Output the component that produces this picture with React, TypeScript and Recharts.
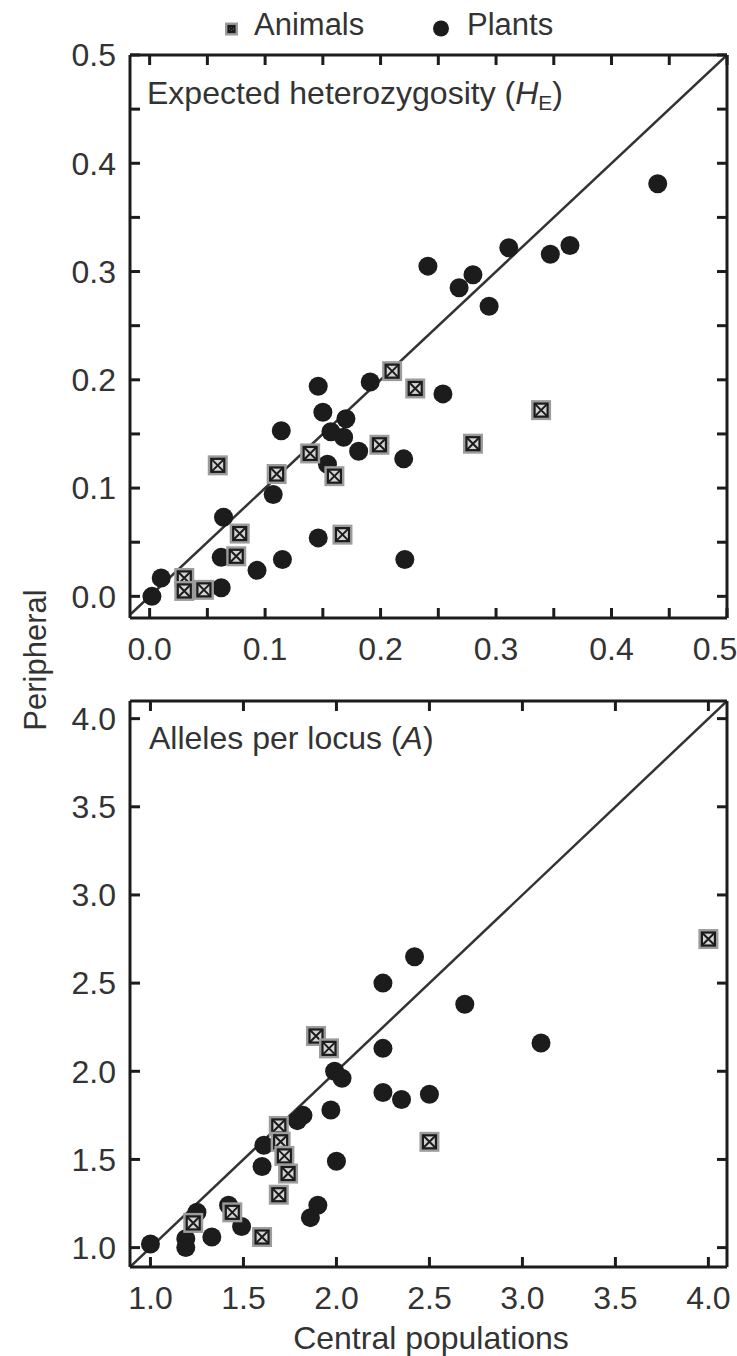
import React from 'react';
import { ScatterChart, Scatter, XAxis, YAxis, ReferenceLine } from 'recharts';

// ---------- Data (central population value, peripheral population value) ----------
// Panel 1: Expected heterozygosity (He)
const heAnimalsCentral = [0.210, 0.230, 0.199, 0.139, 0.160, 0.059, 0.110, 0.078, 0.167, 0.075, 0.030, 0.030, 0.047, 0.280, 0.339];
const heAnimalsPeripheral = [0.208, 0.192, 0.140, 0.132, 0.111, 0.121, 0.113, 0.058, 0.057, 0.037, 0.017, 0.005, 0.006, 0.141, 0.172];
const hePlantsCentral = [0.440, 0.364, 0.347, 0.311, 0.294, 0.280, 0.268, 0.241, 0.254, 0.191, 0.146, 0.150, 0.170, 0.157, 0.168, 0.181, 0.220, 0.114, 0.154, 0.107, 0.064, 0.146, 0.062, 0.115, 0.221, 0.093, 0.010, 0.002, 0.062];
const hePlantsPeripheral = [0.381, 0.324, 0.316, 0.322, 0.268, 0.297, 0.285, 0.305, 0.187, 0.198, 0.194, 0.170, 0.164, 0.152, 0.147, 0.134, 0.127, 0.153, 0.122, 0.094, 0.073, 0.054, 0.036, 0.034, 0.034, 0.024, 0.017, 0.000, 0.008];

// Panel 2: Alleles per locus (A)
const aAnimalsCentral = [1.89, 1.96, 2.50, 1.69, 1.70, 1.72, 1.74, 1.69, 1.44, 1.60, 1.23, 4.00];
const aAnimalsPeripheral = [2.20, 2.13, 1.60, 1.69, 1.60, 1.52, 1.42, 1.30, 1.20, 1.06, 1.14, 2.75];
const aPlantsCentral = [2.69, 2.42, 2.25, 2.25, 1.99, 2.03, 2.25, 2.35, 2.50, 1.97, 1.82, 1.79, 1.61, 2.00, 1.60, 1.90, 1.86, 1.42, 1.49, 1.25, 1.33, 1.19, 1.19, 1.00, 3.10];
const aPlantsPeripheral = [2.38, 2.65, 2.50, 2.13, 2.00, 1.96, 1.88, 1.84, 1.87, 1.78, 1.75, 1.72, 1.58, 1.49, 1.46, 1.24, 1.17, 1.24, 1.12, 1.20, 1.06, 1.05, 1.00, 1.02, 2.16];

// Ticks
const heTicks = [0, 0.05, 0.1, 0.15, 0.2, 0.25, 0.3, 0.35, 0.4, 0.45, 0.5];
const heLabeledTicks = [0, 0.1, 0.2, 0.3, 0.4, 0.5];
const aTicks = [1.0, 1.5, 2.0, 2.5, 3.0, 3.5, 4.0];

const heXDomain: [number, number] = [-0.017, 0.5];
const heYDomain: [number, number] = [-0.02, 0.5];
const aXDomain: [number, number] = [0.89, 4.1];
const aYDomain: [number, number] = [0.89, 4.1];

const legendLabels = ['Animals', 'Plants'];

const zip = (xs: number[], ys: number[]) => xs.map((x, i) => ({ x, y: ys[i] }));

const heAnimals = zip(heAnimalsCentral, heAnimalsPeripheral);
const hePlants = zip(hePlantsCentral, hePlantsPeripheral);
const aAnimals = zip(aAnimalsCentral, aAnimalsPeripheral);
const aPlants = zip(aPlantsCentral, aPlantsPeripheral);

// ---------- Styles ----------
const FONT = '"Liberation Sans", Arial, Helvetica, sans-serif';
const INK = '#1c1c1c';
const TEXT = '#333333';
const TICK_FONT = 32;
const PAGE_W = 737;

function Box({ cx, cy, s }: { cx: number; cy: number; s: number }) {
  const h = s / 2;
  const i = h - 3.5;
  return (
    <g>
      <rect x={cx - h} y={cy - h} width={s} height={s} fill="#9c9c9c" />
      <rect x={cx - i} y={cy - i} width={2 * i} height={2 * i} fill="#d4d4d4" stroke={INK} strokeWidth={2.2} />
      <path
        d={`M${cx - i},${cy - i}L${cx + i},${cy + i}M${cx + i},${cy - i}L${cx - i},${cy + i}`}
        stroke={INK}
        strokeWidth={2}
      />
    </g>
  );
}

const AnimalShape = (props: any) => <Box cx={props.cx} cy={props.cy} s={20} />;
const PlantShape = (props: any) => <circle cx={props.cx} cy={props.cy} r={9.5} fill={INK} />;

const axisLine = { stroke: INK, strokeWidth: 3 };
const tickLine = { stroke: INK, strokeWidth: 3 };
const tickStyle = { fill: TEXT, fontSize: TICK_FONT, fontFamily: FONT };
const blank = () => '';

const heFmt = (v: number) =>
  heLabeledTicks.some((t) => Math.abs(t - v) < 1e-6) ? v.toFixed(1) : '';
const aFmt = (v: number) => v.toFixed(1);

// bottom tick label that stays inside the page
const makeBottomTick = (fmt: (v: number) => string) => (props: any) => {
  const label = fmt(props.payload.value);
  if (!label) return <g />;
  const half = 22;
  const x = Math.min(props.x, PAGE_W - half);
  return (
    <text
      x={x}
      y={props.y}
      dy="0.71em"
      textAnchor="middle"
      fontSize={TICK_FONT}
      fontFamily={FONT}
      fill={TEXT}
    >
      {label}
    </text>
  );
};

function Panel({
  width,
  height,
  marginTop,
  bottomAxisHeight,
  xDomain,
  yDomain,
  ticks,
  fmt,
  animals,
  plants,
}: {
  width: number;
  height: number;
  marginTop: number;
  bottomAxisHeight: number;
  xDomain: [number, number];
  yDomain: [number, number];
  ticks: number[];
  fmt: (v: number) => string;
  animals: { x: number; y: number }[];
  plants: { x: number; y: number }[];
}) {
  const lo = Math.max(xDomain[0], yDomain[0]);
  const hi = Math.min(xDomain[1], yDomain[1]);
  return (
    <ScatterChart width={width} height={height} margin={{ top: marginTop, right: 10, bottom: 0, left: 0 }}>
      {/* labelled axes (bottom / left) */}
      <XAxis
        xAxisId="b"
        type="number"
        dataKey="x"
        orientation="bottom"
        domain={xDomain}
        allowDataOverflow
        ticks={ticks}
        interval={0}
        height={bottomAxisHeight}
        tickSize={0}
        tickMargin={19}
        axisLine={axisLine}
        tickLine={false}
        tick={makeBottomTick(fmt)}
      />
      <YAxis
        yAxisId="l"
        type="number"
        dataKey="y"
        orientation="left"
        domain={yDomain}
        allowDataOverflow
        ticks={ticks}
        interval={0}
        width={130}
        tickSize={0}
        tickMargin={14}
        tickFormatter={fmt}
        axisLine={axisLine}
        tickLine={false}
        tick={tickStyle}
      />
      {/* mirrored axes: inward tick marks on all four sides + top/right frame */}
      <XAxis
        xAxisId="bm"
        type="number"
        dataKey="x"
        orientation="bottom"
        mirror
        domain={xDomain}
        allowDataOverflow
        ticks={ticks}
        interval={0}
        height={1}
        tickSize={10}
        tickFormatter={blank}
        axisLine={false}
        tickLine={tickLine}
        tick={tickStyle}
      />
      <XAxis
        xAxisId="t"
        type="number"
        dataKey="x"
        orientation="top"
        mirror
        domain={xDomain}
        allowDataOverflow
        ticks={ticks}
        interval={0}
        height={1}
        tickSize={10}
        tickFormatter={blank}
        axisLine={axisLine}
        tickLine={tickLine}
        tick={tickStyle}
      />
      <YAxis
        yAxisId="lm"
        type="number"
        dataKey="y"
        orientation="left"
        mirror
        domain={yDomain}
        allowDataOverflow
        ticks={ticks}
        interval={0}
        width={1}
        tickSize={10}
        tickFormatter={blank}
        axisLine={false}
        tickLine={tickLine}
        tick={tickStyle}
      />
      <YAxis
        yAxisId="r"
        type="number"
        dataKey="y"
        orientation="right"
        mirror
        domain={yDomain}
        allowDataOverflow
        ticks={ticks}
        interval={0}
        width={1}
        tickSize={10}
        tickFormatter={blank}
        axisLine={axisLine}
        tickLine={tickLine}
        tick={tickStyle}
      />
      <ReferenceLine
        xAxisId="b"
        yAxisId="l"
        segment={[
          { x: lo, y: lo },
          { x: hi, y: hi },
        ]}
        stroke="#333"
        strokeWidth={2.5}
        ifOverflow="hidden"
      />
      <Scatter xAxisId="b" yAxisId="l" data={plants} shape={PlantShape} isAnimationActive={false} />
      <Scatter xAxisId="b" yAxisId="l" data={animals} shape={AnimalShape} isAnimationActive={false} />
    </ScatterChart>
  );
}

export default function App() {
  return (
    <div style={{ position: 'absolute', left: 0, top: 0, width: 737, height: 1356, background: '#fff' }}>
      <div style={{ position: 'absolute', left: 0, top: 0 }}>
        <Panel
          width={737}
          height={680}
          marginTop={55}
          bottomAxisHeight={62}
          xDomain={heXDomain}
          yDomain={heYDomain}
          ticks={heTicks}
          fmt={heFmt}
          animals={heAnimals}
          plants={hePlants}
        />
      </div>
      <div style={{ position: 'absolute', left: 0, top: 680 }}>
        <Panel
          width={737}
          height={676}
          marginTop={21}
          bottomAxisHeight={89}
          xDomain={aXDomain}
          yDomain={aYDomain}
          ticks={aTicks}
          fmt={aFmt}
          animals={aAnimals}
          plants={aPlants}
        />
      </div>
      <svg
        width={737}
        height={1356}
        style={{ position: 'absolute', left: 0, top: 0, pointerEvents: 'none' }}
        fontFamily={FONT}
      >
        {/* Legend */}
        <Box cx={231.5} cy={29} s={13} />
        <text x={254} y={35} fontSize={31} fill={TEXT}>
          {legendLabels[0]}
        </text>
        <circle cx={441} cy={28.5} r={8} fill={INK} />
        <text x={467} y={35} fontSize={31} fill={TEXT}>
          {legendLabels[1]}
        </text>

        {/* Panel titles */}
        <text x={147} y={104} fontSize={32} fill={TEXT}>
          Expected heterozygosity (<tspan fontStyle="italic">H</tspan>
          <tspan fontSize={21} dy={6}>E</tspan>
          <tspan dy={-6}>)</tspan>
        </text>
        <text x={149} y={749} fontSize={32} fill={TEXT}>
          Alleles per locus (<tspan fontStyle="italic">A</tspan>)
        </text>

        {/* Axis titles */}
        <text
          x={0}
          y={0}
          fontSize={31}
          fill={TEXT}
          textAnchor="middle"
          transform="translate(46,660) rotate(-90)"
        >
          Peripheral
        </text>
        <text x={431} y={1349} fontSize={32} fill={TEXT} textAnchor="middle">
          Central populations
        </text>
      </svg>
    </div>
  );
}
